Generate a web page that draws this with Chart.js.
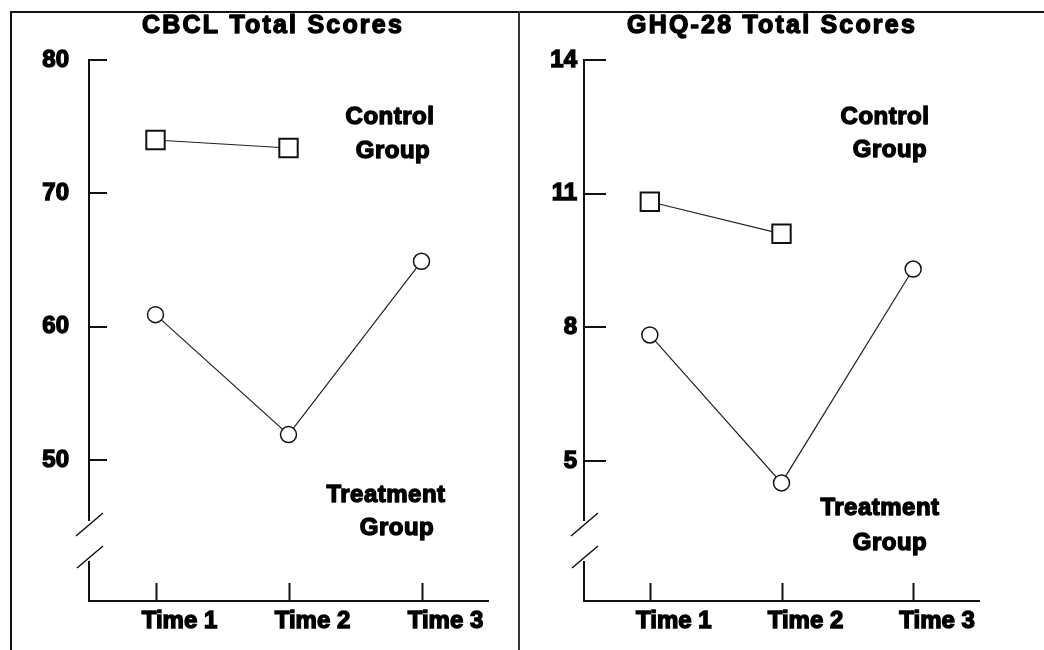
<!DOCTYPE html>
<html>
<head>
<meta charset="utf-8">
<script src="https://cdn.jsdelivr.net/npm/chart.js@4/dist/chart.umd.min.js"></script>
<style>
  body { margin: 0; background: #fff; }
  #wrap { position: relative; width: 1044px; height: 650px; overflow: hidden; }
  canvas { position: absolute; top: 0; }
  #cbcl { left: 0; }
  #ghq { left: 520px; }
  .line { position: absolute; background: #111; }
</style>
</head>
<body>
<div id="wrap">
  <canvas id="cbcl" width="518" height="650"></canvas>
  <canvas id="ghq" width="524" height="650"></canvas>
  <div class="line" style="left:10px;top:11px;width:1034px;height:2px"></div>
  <div class="line" style="left:10px;top:11px;width:2px;height:639px"></div>
  <div class="line" style="left:518px;top:11px;width:2px;height:639px;background:#333"></div>
</div>
<script>
const times = ['Time 1', 'Time 2', 'Time 3'];

const cbclControl = [74, 73.4, null];
const cbclTreatment = [60.9, 51.9, 64.9];
const cbclTicks = [50, 60, 70, 80];

const ghqControl = [10.82, 10.1, null];
const ghqTreatment = [7.83, 4.51, 9.31];
const ghqTicks = [5, 8, 11, 14];

const FONT = "'Liberation Sans', Arial, sans-serif";

// inward ticks, broken y axis and the text labels
const panelDecor = {
    id: 'panelDecor',
    afterDraw(chart, args, opts) {
        const ctx = chart.ctx;
        const area = chart.chartArea;
        const x = chart.scales.x, y = chart.scales.y;
        const ax = y.right;
        ctx.save();
        ctx.strokeStyle = '#111';
        ctx.lineWidth = 2;
        ctx.beginPath();
        y.ticks.forEach(t => {
            const py = Math.round(y.getPixelForValue(t.value));
            ctx.moveTo(ax, py);
            ctx.lineTo(ax + opts.yTickLen, py);
        });
        times.forEach((t, i) => {
            const px = Math.round(x.getPixelForValue(i)) + 0.5;
            ctx.moveTo(px, area.bottom);
            ctx.lineTo(px, area.bottom - 18);
        });
        ctx.stroke();

        // axis break
        const b = area.bottom;
        ctx.fillStyle = '#fff';
        ctx.fillRect(ax - 3, b - 80, 6, 40);
        ctx.lineWidth = 1.5;
        ctx.beginPath();
        ctx.moveTo(ax - 13, b - 65); ctx.lineTo(ax + 14, b - 88);
        ctx.moveTo(ax - 12, b - 33); ctx.lineTo(ax + 14, b - 55);
        ctx.stroke();

        ctx.fillStyle = '#000';
        ctx.strokeStyle = '#000';
        ctx.lineWidth = 1.4;
        ctx.lineJoin = 'round';
        ctx.textAlign = 'center';
        ctx.textBaseline = 'middle';
        ctx.font = 'bold 25px ' + FONT;
        ctx.letterSpacing = '2.2px';
        ctx.strokeText(opts.title, opts.titleX, 26);
        ctx.fillText(opts.title, opts.titleX, 26);
        ctx.font = 'bold 24px ' + FONT;
        ctx.letterSpacing = '0.5px';
        opts.notes.forEach(n => {
            ctx.strokeText(n.text, n.x, n.y);
            ctx.fillText(n.text, n.x, n.y);
        });
        ctx.restore();
    }
};

function makePanel(id, control, treatment, tickVals, yMin, yMax, yWidth, padRight, labelPad, tickLen, title, titleX, notes) {
    const ctx = document.getElementById(id).getContext('2d');
    const tickFont = { family: FONT, size: 24, weight: 'bold' };
    return new Chart(ctx, {
        type: 'line',
        data: {
            labels: times,
            datasets: [{
                label: 'Control Group',
                data: control,
                borderColor: '#222',
                borderWidth: 1.2,
                pointStyle: 'rect',
                pointRadius: 13,
                pointBorderWidth: 2,
                pointBackgroundColor: '#fff',
                pointBorderColor: '#111'
            }, {
                label: 'Treatment Group',
                data: treatment,
                borderColor: '#222',
                borderWidth: 1.2,
                pointStyle: 'circle',
                pointRadius: 8,
                pointBorderWidth: 1.5,
                pointBackgroundColor: '#fff',
                pointBorderColor: '#111'
            }]
        },
        options: {
            responsive: false,
            animation: false,
            devicePixelRatio: 1,
            layout: { padding: { top: 60, right: padRight, bottom: 0, left: 0 } },
            plugins: {
                legend: { display: false },
                tooltip: { enabled: false },
                panelDecor: { title: title, titleX: titleX, notes: notes, yTickLen: tickLen }
            },
            scales: {
                x: {
                    type: 'category',
                    offset: true,
                    grid: { display: false, drawTicks: false },
                    border: { display: true, color: '#111', width: 2 },
                    ticks: {
                        color: '#000',
                        font: tickFont,
                        textStrokeColor: '#000',
                        textStrokeWidth: 1.4,
                        padding: 6,
                        labelOffset: 24,
                        maxRotation: 0,
                        autoSkip: false
                    },
                    afterFit(scale) {
                        scale.height = 49;
                        scale.paddingLeft = 0;
                        scale.paddingRight = 0;
                    }
                },
                y: {
                    min: yMin,
                    max: yMax,
                    grid: { display: false, drawTicks: false },
                    border: { display: true, color: '#111', width: 2 },
                    ticks: {
                        color: '#000',
                        font: tickFont,
                        textStrokeColor: '#000',
                        textStrokeWidth: 1.4,
                        padding: labelPad
                    },
                    afterBuildTicks(scale) {
                        scale.ticks = tickVals.map(v => ({ value: v }));
                    },
                    afterFit(scale) {
                        scale.width = yWidth;
                        scale.paddingTop = 0;
                        scale.paddingBottom = 0;
                    }
                }
            }
        },
        plugins: [panelDecor]
    });
}

makePanel('cbcl', cbclControl, cbclTreatment, cbclTicks, 39.42, 80, 89, 30, 20, 18,
    'CBCL Total Scores', 273, [
        { text: 'Control', x: 390, y: 117 },
        { text: 'Group', x: 393, y: 151 },
        { text: 'Treatment', x: 386, y: 495 },
        { text: 'Group', x: 397, y: 528 }
    ]);

makePanel('ghq', ghqControl, ghqTreatment, ghqTicks, 1.86, 14, 64, 65, 7, 22,
    'GHQ-28 Total Scores', 252, [
        { text: 'Control', x: 365, y: 117 },
        { text: 'Group', x: 370, y: 150 },
        { text: 'Treatment', x: 360, y: 508 },
        { text: 'Group', x: 370, y: 543 }
    ]);
</script>
</body>
</html>
